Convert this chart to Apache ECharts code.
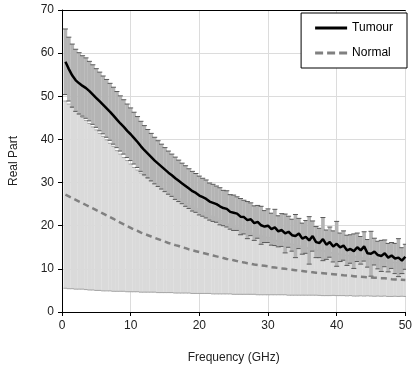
<!DOCTYPE html>
<html>
<head>
<meta charset="utf-8">
<script src="https://cdn.jsdelivr.net/npm/echarts@6/dist/echarts.min.js"></script>
<style>html,body{margin:0;padding:0;background:#fff}#c{width:415px;height:369px}</style>
</head>
<body>
<div id="c"></div>
<script>
const freq = [0.5,1,1.5,2,2.5,3,3.5,4,4.5,5,5.5,6,6.5,7,7.5,8,8.5,9,9.5,10,
10.5,11,11.5,12,12.5,13,13.5,14,14.5,15,15.5,16,16.5,17,17.5,18,18.5,19,19.5,20,
20.5,21,21.5,22,22.5,23,23.5,24,24.5,25,25.5,26,26.5,27,27.5,28,28.5,29,29.5,30,
30.5,31,31.5,32,32.5,33,33.5,34,34.5,35,35.5,36,36.5,37,37.5,38,38.5,39,39.5,40,
40.5,41,41.5,42,42.5,43,43.5,44,44.5,45,45.5,46,46.5,47,47.5,48,48.5,49,49.5,50];

const tumourMean = [58.0,56.3,54.8,53.7,53.0,52.4,51.9,51.2,50.4,49.6,48.8,48.0,47.2,46.4,45.5,44.6,43.7,42.9,42.0,41.2,
40.3,39.4,38.4,37.5,36.7,35.9,35.1,34.4,33.7,33.0,32.3,31.7,31.0,30.4,29.8,29.2,28.6,28.0,27.6,27.0,
26.6,26.2,25.6,25.3,25.0,24.5,24.1,23.9,23.2,23.0,22.8,22.1,22.0,21.3,21.5,20.6,20.9,20.1,19.8,20.0,
19.2,19.6,18.7,19.0,18.2,18.6,17.8,17.6,18.2,17.0,17.4,16.6,17.6,16.2,16.0,16.9,15.6,16.2,15.2,15.8,
15.0,15.4,14.3,14.6,14.1,15.0,14.3,15.2,13.6,13.5,14.0,13.2,13.0,13.6,12.6,13.1,12.4,12.6,11.9,12.8];

const tumourErr = [7.6,7.4,7.3,7.2,7.1,7.0,7.0,6.9,6.9,6.8,6.8,6.7,6.7,6.6,6.6,6.5,6.4,6.3,6.2,6.1,
6.0,5.9,5.8,5.7,5.6,5.5,5.4,5.3,5.2,5.1,5.0,4.9,4.9,4.8,4.7,4.7,4.6,4.6,4.5,4.5,
4.4,4.4,4.3,4.3,4.2,4.3,4.1,4.2,4.0,4.1,3.9,4.2,3.9,4.3,3.8,4.0,3.8,4.4,3.7,3.9,
3.7,4.2,3.6,3.8,4.5,3.6,3.7,5.0,3.5,3.6,3.8,5.5,3.5,3.6,3.4,5.0,3.4,3.5,3.6,5.2,
3.3,3.4,3.5,3.3,4.0,3.3,3.2,3.4,3.2,5.2,3.1,3.2,3.6,3.1,3.3,3.0,3.5,4.4,3.0,2.9];

const normalMean = [27.2,26.8,26.4,26.0,25.6,25.2,24.8,24.4,24.0,23.6,23.2,22.8,22.4,22.0,21.6,21.1,20.7,20.3,19.9,19.5,
19.1,18.8,18.4,18.1,17.8,17.5,17.2,16.9,16.6,16.3,16.0,15.8,15.5,15.3,15.0,14.8,14.5,14.3,14.1,13.9,
13.7,13.5,13.3,13.1,12.9,12.7,12.5,12.3,12.2,12.0,11.8,11.6,11.5,11.3,11.2,11.0,10.9,10.8,10.7,10.6,
10.4,10.3,10.2,10.1,10.0,9.9,9.8,9.7,9.6,9.5,9.4,9.3,9.2,9.1,9.05,9.0,8.9,8.8,8.75,8.7,
8.6,8.5,8.45,8.4,8.3,8.2,8.15,8.1,8.05,8.0,7.95,7.9,7.85,7.8,7.7,7.6,7.55,7.5,7.45,7.4];

const normalErr = [21.7,21.4,21.0,20.7,20.3,19.9,19.6,19.3,18.9,18.6,18.2,17.9,17.5,17.1,16.8,16.3,15.9,15.5,15.2,14.8,
14.4,14.1,13.8,13.5,13.2,12.9,12.6,12.4,12.1,11.8,11.5,11.3,11.1,10.9,10.6,10.4,10.1,10.0,9.8,9.6,
9.4,9.2,9.0,8.9,8.7,8.5,8.3,8.1,8.0,7.9,7.7,7.5,7.4,7.2,7.1,6.9,6.9,6.8,6.7,6.6,
6.4,6.3,6.2,6.1,6.0,6.0,5.9,5.8,5.7,5.6,5.5,5.4,5.3,5.2,5.2,5.2,5.1,5.0,4.9,4.9,
4.8,4.7,4.7,4.6,4.6,4.5,4.4,4.4,4.3,4.3,4.3,4.2,4.2,4.1,4.1,4.0,3.9,3.9,3.8,3.8];

const xTicks = [0,10,20,30,40,50];
const yTicks = [0,10,20,30,40,50,60,70];

function pairs(m){ return freq.map((f,i)=>[f,m[i]]); }
function errData(m,e){ return freq.map((f,i)=>[f,m[i]-e[i],m[i]+e[i]]); }

function errRender(barColor, barWidth, capColor, cap){
  return function(params, api){
    const x = api.value(0);
    const lo = api.coord([x, api.value(1)]);
    const hi = api.coord([x, api.value(2)]);
    const bs = {stroke: barColor, lineWidth: barWidth, fill: null};
    const cs = {stroke: capColor, lineWidth: 1, fill: null};
    return {type:'group', children:[
      {type:'line', shape:{x1:lo[0],y1:lo[1],x2:hi[0],y2:hi[1]}, style:bs},
      {type:'line', shape:{x1:lo[0]-cap,y1:lo[1],x2:lo[0]+cap,y2:lo[1]}, style:cs},
      {type:'line', shape:{x1:hi[0]-cap,y1:hi[1],x2:hi[0]+cap,y2:hi[1]}, style:cs}
    ]};
  };
}

const chart = echarts.init(document.getElementById('c'), null, {renderer:'canvas'});
const font = '"Liberation Sans", Arial, sans-serif';
chart.setOption({
  animation:false,
  textStyle:{fontFamily:font},
  grid:{left:60, right:5, top:10, bottom:56},
  legend:{
    orient:'vertical', right:8, top:13,
    backgroundColor:'#fff', borderColor:'#000', borderWidth:1,
    padding:[9,14,9,14], itemWidth:32, itemHeight:3, itemGap:13, itemStyle:{borderWidth:0},
    textStyle:{fontSize:12, color:'#000', fontFamily:font},
    data:[
      {name:'Tumour', icon:'path://M0,0h32v3h-32z'},
      {name:'Normal', icon:'path://M0,0h8v3h-8zM12,0h8v3h-8zM24,0h8v3h-8z'}
    ]
  },
  xAxis:[{
    type:'value', min:xTicks[0], max:xTicks[xTicks.length-1], interval:10,
    name:'Frequency (GHz)', nameLocation:'middle', nameGap:40,
    nameTextStyle:{fontSize:12, color:'#222', fontFamily:font},
    axisLine:{lineStyle:{color:'#000', width:1}},
    axisTick:{show:true, length:4, lineStyle:{color:'#000'}},
    axisLabel:{fontSize:12, color:'#222', margin:8, fontFamily:font},
    splitLine:{show:true, lineStyle:{color:'#dcdcdc', width:1}}
  },{
    type:'value', position:'top', min:xTicks[0], max:xTicks[xTicks.length-1],
    axisLine:{show:true, lineStyle:{color:'#000', width:1}},
    axisTick:{show:false}, axisLabel:{show:false}, splitLine:{show:false}
  }],
  yAxis:{
    type:'value', min:yTicks[0], max:yTicks[yTicks.length-1], interval:10,
    name:'Real Part', nameLocation:'middle', nameGap:42, nameRotate:90,
    nameTextStyle:{fontSize:12, color:'#222', fontFamily:font},
    axisLine:{show:true, lineStyle:{color:'#000', width:1}},
    axisTick:{show:true, length:4, lineStyle:{color:'#000'}},
    axisLabel:{fontSize:12, color:'#222', margin:8, fontFamily:font},
    splitLine:{show:true, lineStyle:{color:'#dcdcdc', width:1}}
  },
  series:[
    {type:'custom', name:'NormalErr', clip:true, z:2,
     renderItem: errRender('#dadada', 3.6, '#a6a6a6', 2),
     data: errData(normalMean, normalErr), encode:{x:0, y:[1,2]}},
    {type:'custom', name:'TumourErr', clip:true, z:3,
     renderItem: errRender('#b4b4b4', 3.6, '#5a5a5a', 2.5),
     data: errData(tumourMean, tumourErr), encode:{x:0, y:[1,2]}},
    {type:'line', name:'Normal', data: pairs(normalMean), symbol:'none', z:4,
     lineStyle:{color:'#808080', width:2.5, type:[6,4]}, itemStyle:{color:'#808080'}},
    {type:'line', name:'Tumour', data: pairs(tumourMean), symbol:'none', z:5,
     lineStyle:{color:'#000', width:2.5}, itemStyle:{color:'#000'}}
  ]
});
</script>
</body>
</html>
